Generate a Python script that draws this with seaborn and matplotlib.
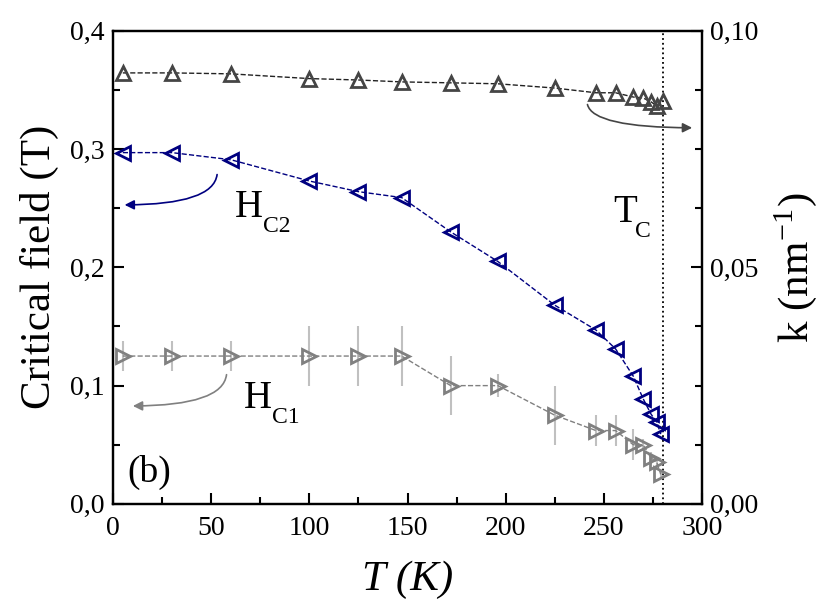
import numpy as np
import seaborn as sns
import matplotlib.pyplot as plt
from matplotlib.ticker import MultipleLocator, FuncFormatter

# temperatures (K)
temp = [5, 30, 60, 100, 125, 147, 172, 196, 225, 246, 256, 265, 270, 274, 277, 279]
temp_k = [5, 30, 60, 100, 125, 147, 172, 196, 225, 246, 256, 265, 270, 274, 277, 280]

# critical fields (T)
hc2 = [0.297, 0.297, 0.291, 0.273, 0.264, 0.259, 0.230, 0.205, 0.168, 0.147,
       0.131, 0.108, 0.089, 0.076, 0.069, 0.059]
hc1 = [0.125, 0.125, 0.125, 0.125, 0.125, 0.125, 0.100, 0.100, 0.075, 0.062,
       0.062, 0.050, 0.050, 0.039, 0.035, 0.025]
hc1_err = [0.013, 0.013, 0.013, 0.025, 0.025, 0.025, 0.025, 0.010, 0.025, 0.013,
           0.013, 0.013, 0.005, 0.005, 0.004, 0.003]

# k (nm^-1), right axis
k_val = [0.0911, 0.0911, 0.0909, 0.0899, 0.0896, 0.0892, 0.0890, 0.0888, 0.0879, 0.0869,
         0.0869, 0.0860, 0.0858, 0.0850, 0.0841, 0.0852]

T_c = 280

sns.set_style("ticks", {"text.color": "black", "axes.labelcolor": "black",
                        "xtick.color": "black", "ytick.color": "black",
                        "axes.edgecolor": "black"})
plt.rcParams['font.family'] = ['Liberation Serif', 'DejaVu Serif']
plt.rcParams['mathtext.fontset'] = 'stix'

navy = '#000080'
grey = '#808080'
dgrey = '#454545'

fig = plt.figure(figsize=(8.22, 6.16), dpi=100)
ax = fig.add_axes([0.1375, 0.182, 0.7165, 0.768])
ax2 = ax.twinx()

# error bars for Hc1 first so markers sit on top
ax.errorbar(temp, hc1, yerr=hc1_err, fmt='none', ecolor='#c0c0c0', elinewidth=1.5, capsize=0, zorder=1)

sns.lineplot(x=temp, y=hc2, ax=ax, color=navy, linestyle='--', linewidth=1,
             marker='<', markersize=10, markerfacecolor='none', markeredgecolor=navy,
             markeredgewidth=2, zorder=3)
sns.lineplot(x=temp, y=hc1, ax=ax, color=grey, linestyle='--', linewidth=1,
             marker='>', markersize=10, markerfacecolor='none', markeredgecolor=grey,
             markeredgewidth=2, zorder=3)
sns.lineplot(x=temp_k, y=k_val, ax=ax2, color='#222222', linestyle='--', linewidth=1,
             marker='^', markersize=10, markerfacecolor='none', markeredgecolor=dgrey,
             markeredgewidth=2, zorder=3)

ax.axvline(T_c, color='black', linestyle=':', linewidth=1.3)

ax.set_xlim(0, 300)
ax.set_ylim(0, 0.4)
ax2.set_ylim(0, 0.10)

ax.xaxis.set_major_locator(MultipleLocator(50))
ax.xaxis.set_minor_locator(MultipleLocator(25))
ax.yaxis.set_major_locator(MultipleLocator(0.1))
ax.yaxis.set_minor_locator(MultipleLocator(0.05))
ax2.yaxis.set_major_locator(MultipleLocator(0.05))
ax2.yaxis.set_minor_locator(MultipleLocator(0.0125))

ax.yaxis.set_major_formatter(FuncFormatter(lambda v, p: f"{v:.1f}".replace('.', ',')))
ax2.yaxis.set_major_formatter(FuncFormatter(lambda v, p: f"{v:.2f}".replace('.', ',')))

for a in (ax, ax2):
    a.tick_params(which='major', direction='in', length=8, width=1.5, labelsize=20)
    a.tick_params(which='minor', direction='in', length=5, width=1.5)
    for s in a.spines.values():
        s.set_linewidth(1.6)
        s.set_visible(True)
ax.tick_params(axis='x', pad=9)
ax.tick_params(axis='y', pad=6)
ax2.tick_params(axis='y', pad=6)

ax.set_xlabel('T (K)', fontsize=31, fontstyle='italic', labelpad=14)
ax.set_ylabel('Critical field (T)', fontsize=31, labelpad=8)
ax2.set_ylabel(r'k (nm$^{\mathregular{-1}}$)', fontsize=31, labelpad=10)


def label_sub(x, y, main, sub, dx):
    ax.text(x, y, main, transform=ax.transAxes, fontsize=28)
    ax.annotate(sub, xy=(x, y), xycoords='axes fraction', xytext=(dx, -11),
                textcoords='offset points', fontsize=17)


label_sub(0.207, 0.607, 'H', 'C2', 20)
label_sub(0.222, 0.203, 'H', 'C1', 20)
label_sub(0.849, 0.596, 'T', 'C', 16)
ax.text(0.025, 0.046, '(b)', transform=ax.transAxes, fontsize=27)

# curved arrows pointing to the axis each curve belongs to
arrow_kw = dict(arrowstyle='-|>', mutation_scale=14, linewidth=1.2,
                connectionstyle='angle3,angleA=90,angleB=0')
ax.annotate('', xy=(0.015, 0.632), xytext=(0.177, 0.702), xycoords='axes fraction',
            arrowprops=dict(color=navy, **arrow_kw))
ax.annotate('', xy=(0.029, 0.207), xytext=(0.193, 0.279), xycoords='axes fraction',
            arrowprops=dict(color=grey, **arrow_kw))
ax.annotate('', xy=(0.988, 0.795), xytext=(0.805, 0.850), xycoords='axes fraction',
            arrowprops=dict(color=dgrey, **arrow_kw))

fig.savefig('out.png', dpi=100)
